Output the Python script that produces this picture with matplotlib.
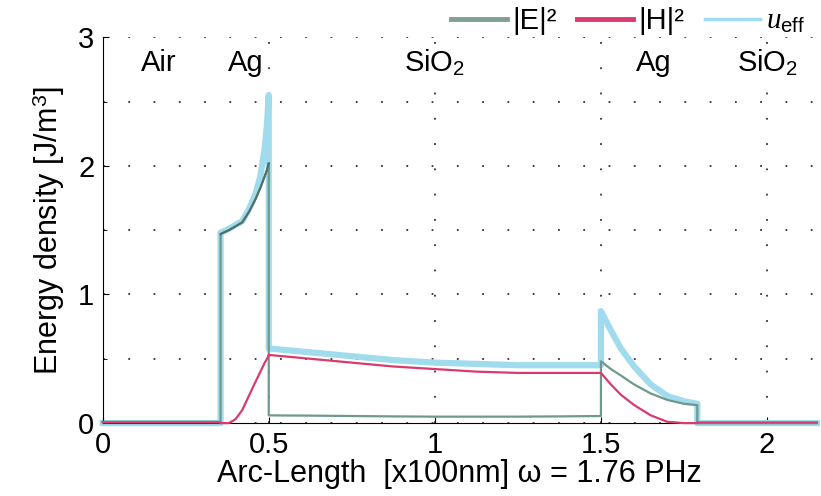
import numpy as np
import matplotlib
matplotlib.use('Agg')
import matplotlib.pyplot as plt
from matplotlib.lines import Line2D

plt.rcParams['font.family'] = ['Liberation Sans', 'DejaVu Sans']
plt.rcParams['mathtext.fontset'] = 'custom'
plt.rcParams['mathtext.rm'] = 'Liberation Sans'
plt.rcParams['mathtext.it'] = 'Liberation Serif:italic'

# --- data (x in 100 nm) ---
# Air
air_x = [0.0, 0.355]
air_E = [0.01, 0.01]
air_H = [0.005, 0.005]
air_u = [0.0, 0.0]

# first Ag layer
ag1_x = [0.355, 0.38, 0.40, 0.42, 0.44, 0.46, 0.475, 0.488, 0.495, 0.5]
ag1_E = [1.47, 1.50, 1.53, 1.56, 1.64, 1.74, 1.83, 1.92, 1.97, 2.02]
ag1_u = [1.48, 1.51, 1.54, 1.57, 1.66, 1.78, 1.92, 2.14, 2.33, 2.55]
ag1_H = [0.0, 0.0, 0.03, 0.10, 0.21, 0.32, 0.40, 0.47, 0.50, 0.53]

# SiO2 spacer
sio_x = [0.5, 0.625, 0.75, 0.875, 1.0, 1.125, 1.25, 1.375, 1.5]
sio_E = [0.06, 0.058, 0.055, 0.052, 0.05, 0.05, 0.05, 0.052, 0.055]
sio_H = [0.53, 0.50, 0.47, 0.44, 0.42, 0.40, 0.39, 0.39, 0.39]
sio_u = [0.58, 0.55, 0.52, 0.49, 0.47, 0.46, 0.45, 0.45, 0.45]

# second Ag layer
ag2_x = [1.5, 1.53, 1.56, 1.6, 1.65, 1.7, 1.75, 1.79]
ag2_E = [0.48, 0.42, 0.37, 0.30, 0.23, 0.18, 0.15, 0.14]
ag2_H = [0.39, 0.30, 0.22, 0.14, 0.06, 0.01, 0.0, 0.0]
ag2_u = [0.87, 0.72, 0.58, 0.44, 0.30, 0.21, 0.17, 0.15]

# SiO2 substrate
sub_x = [1.79, 2.15]
sub_E = [0.0, 0.0]
sub_H = [0.005, 0.005]
sub_u = [0.0, 0.0]

regions = ['Air', 'Ag', 'SiO$_2$', 'Ag', 'SiO$_2$']
region_x = [0.17, 0.43, 1.0, 1.66, 2.0]

x = np.concatenate([air_x, ag1_x, sio_x, ag2_x, sub_x])
E = np.concatenate([air_E, ag1_E, sio_E, ag2_E, sub_E])
H = np.concatenate([air_H, ag1_H, sio_H, ag2_H, sub_H])
u = np.concatenate([air_u, ag1_u, sio_u, ag2_u, sub_u])

c_E = '#6f998b'
c_H = '#d83c6c'
c_u = '#a0dcee'

fig = plt.figure(figsize=(8.21, 4.96), dpi=100)
ax = fig.add_axes([0.125, 0.147, 0.87, 0.778])

ax.plot(x, u, color=c_u, lw=4.5, clip_on=False, zorder=2)
ax.plot(x, E, color=c_E, lw=1.6, clip_on=False, zorder=3)
ax.plot(x, H, color=c_H, lw=1.6, clip_on=False, zorder=4)
# E sits above H in the first Ag layer
ax.plot(ag1_x, ag1_E, color='#4f6f66', lw=1.4, zorder=5)

ax.set_xlim(0, 2.15)
ax.set_ylim(0, 3)
ax.set_xticks([0, 0.5, 1, 1.5, 2])
ax.set_xticklabels(['0', '0.5', '1', '1.5', '2'])
ax.set_yticks([0, 1, 2, 3])
ax.set_yticks([0.5, 1.5, 2.5], minor=True)
ax.tick_params(direction='in', labelsize=21, length=4, pad=6)
ax.tick_params(which='minor', direction='in', length=3)
ax.grid(True, which='both', color='#333333', linestyle=(0, (1, 13)), lw=1.3)
for s in ['top', 'right']:
    ax.spines[s].set_visible(False)

for name, rx in zip(regions, region_x):
    ax.text(rx, 2.8, name, ha='center', va='center', fontsize=21)

ax.set_xlabel('Arc-Length  [x100nm] ω = 1.76 PHz', fontsize=22, labelpad=0)
ax.set_ylabel('Energy density [J/m$^3$]', fontsize=22, labelpad=8)

handles = [Line2D([], [], color='#80a096', lw=3.5),
           Line2D([], [], color=c_H, lw=3.5),
           Line2D([], [], color=c_u, lw=2.5)]
labels = ['|E|²', '|H|²', '$u_{\\rm eff}$']
ax.legend(handles, labels, ncol=3, loc='lower right', bbox_to_anchor=(1.0, 0.975),
          frameon=False, fontsize=21, handlelength=1.9, columnspacing=0.7,
          handletextpad=0.2, borderaxespad=0)

fig.savefig('out.png', dpi=100)
